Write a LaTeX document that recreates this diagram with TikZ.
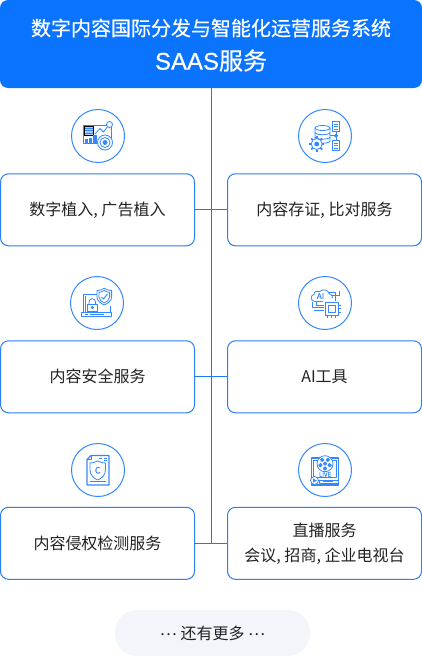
\documentclass[tikz,border=0pt]{standalone}
\usepackage{fontspec}
\setmainfont{Noto Sans CJK SC}
\newfontfamily\titlecjk[FakeBold=0.5]{Noto Sans CJK SC}
\newfontfamily\titlelat[FakeBold=0.5]{Liberation Sans}
\usetikzlibrary{calc}
\definecolor{barblue}{HTML}{0A74FF}
\definecolor{edgeblue}{HTML}{2B7FEF}
\definecolor{linkblue}{HTML}{1A78FF}
\definecolor{iconblue}{HTML}{3388FF}
\definecolor{icontint}{HTML}{A9CCFF}
\definecolor{pillgrey}{HTML}{F3F5FA}
\definecolor{inktext}{HTML}{222222}
\newcommand{\lowertext}[1]{\raisebox{-0.8pt}{#1}}
\tikzset{
  x=1pt,y=-1pt,
  topbar/.style={fill=barblue,rounded corners=8pt,minimum width=422pt,minimum height=88pt,inner sep=0pt},
  bartext/.style={text=white,inner sep=0pt},
  cardbox/.style={draw=edgeblue,line width=1pt,fill=white,rounded corners=8pt,minimum width=194pt,minimum height=72pt,inner sep=0pt,text=inktext,align=center,font=\fontsize{16pt}{25pt}\selectfont},
  pillbox/.style={fill=pillgrey,rounded corners=22pt,minimum width=195pt,minimum height=46pt,inner sep=0pt,text=inktext,font=\fontsize{16pt}{24pt}\selectfont},
  link/.style={draw=linkblue,line width=1.1pt},
  ring/.style={draw=iconblue,line width=1pt,circle,minimum size=53pt,inner sep=0pt},
  ic/.style={draw=iconblue,line width=.8pt,line join=round},
  icf/.style={fill=iconblue},
  ict/.style={fill=icontint},
}
\begin{document}
\begin{tikzpicture}
\useasboundingbox (0,0) rectangle (422,656);
% top bar
\node[topbar] (top) at (211,44) {};
\node[bartext,font=\titlecjk\fontsize{20pt}{24pt}\selectfont] (t1) at (211,28) {数字内容国际分发与智能化运营服务系统};
\node[bartext,font=\fontsize{24pt}{28pt}\selectfont] (t2) at (211,60.5) {{\titlelat SAAS}{\titlecjk 服务}};
% cards
\node[cardbox] (c1) at (97.5,209.8) {\lowertext{数字植入, 广告植入}};
\node[cardbox] (c2) at (324.5,209.8) {\lowertext{内容存证, 比对服务}};
\node[cardbox] (c3) at (97.5,376.8) {\lowertext{内容安全服务}};
\node[cardbox] (c4) at (324.5,376.8) {\lowertext{AI工具}};
\node[cardbox] (c5) at (97.5,543.3) {\lowertext{内容侵权检测服务}};
\node[cardbox] (c6) at (324.5,543.3) {\lowertext{直播服务}\\\lowertext{会议, 招商, 企业电视台}};
\node[pillbox] (more) at (212.5,633) {\raisebox{3.5pt}{⋯} 还有更多 \raisebox{3.5pt}{⋯}};
% connectors
\coordinate (trunktop) at (211.5,88);
\coordinate (trunkend) at (211.5,543.3);
\draw[link] (trunktop) -- (trunkend);
\draw[link] (c1.east) -- (c2.west);
\draw[link] (c3.east) -- (c4.west);
\draw[link] (c5.east) -- (c6.west);
% rings
\node[ring] (r1) at (98,136) {};
\node[ring] (r2) at (325,136) {};
\node[ring] (r3) at (97,303) {};
\node[ring] (r4) at (325,303) {};
\node[ring] (r5) at (98,470) {};
\node[ring] (r6) at (325,470) {};
% icon 1: dashboard
\draw[ic] (83.5,125) rectangle (111,143);
\draw[ict] (84.5,126) rectangle (93,135);
\foreach \yy in {128,130.5,133} \draw[ic,line width=.5pt] (85,\yy) -- (92.5,\yy);
\draw[ic,icf] (85.5,139) rectangle (87.5,142);
\draw[ic,icf] (89,138) rectangle (91,142);
\draw[ic,icf] (93.5,135.5) rectangle (96,142);
\draw[ic] (95,134) -- (100,128.5) -- (103.5,132) -- (108,126);
\draw[ic,fill=white] (109.5,124.5) circle (3);
\draw[ic,fill=white] (105,142.5) circle (7.5);
\draw[ic] (105,142.5) circle (5);
\draw[ic,icf] (105,142.5) circle (2);
% icon 2: database
\draw[ic,fill=white] (315,128) -- (315,141) arc[start angle=180,end angle=360,x radius=7.5,y radius=-2.2] -- (330,128);
\draw[ic,fill=white] (322.5,128) ellipse (7.5 and 2.5);
\draw[ic] (315,132.5) arc[start angle=180,end angle=360,x radius=7.5,y radius=-2.2];
\draw[ic] (315,137) arc[start angle=180,end angle=360,x radius=7.5,y radius=-2.2];
\draw[ic] (330,135.7) -- (336,135.7);
\draw[ic] (336,131.7) -- (336,140);
\draw[ic,icf] (336,135.7) circle (1.5);
\foreach \dy in {121.7,140.3}{
  \draw[ic,fill=white] (332.7,\dy) rectangle +(6.6,10);
  \foreach \ly in {2.5,5,7.5} \draw[ic,line width=.6pt] ($(334,\dy)+(0,\ly)$) -- +(4,0);
}
\foreach \a in {0,45,...,315} \draw[iconblue,line width=1.8pt] (316.7,144)++(\a:5.5) -- ++(\a:2.2);
\draw[ic,fill=white] (316.7,144) circle (5.5);
\draw[ic,icf] (316.7,144) circle (2);
% icon 3: laptop, lock, shield
\draw[ic] (103,294) -- (83.5,294) -- (83.5,313);
\draw[ic] (110,306) -- (110,313);
\draw[ic] (85.5,296) -- (85.5,313);
\draw[ic,fill=white] (81.7,312.7) rectangle (111.7,316.7);
\draw[ic,line width=.6pt] (85,314.7) -- (88,314.7) (90,314.7) -- (104,314.7);
\draw[ic] (89,304.5) -- (89,302) arc[start angle=180,end angle=0,x radius=3.3,y radius=-3.3] -- (95.6,304.5);
\draw[ic,fill=white] (87.3,304.5) rectangle (97.3,311.5);
\draw[ic,icf] (92.3,307.5) circle (1.2);
\draw[ic,fill=white] (104.3,288.3) .. controls (100,290.5) and (98.5,290.5) .. (97,290.5) -- (97,297) .. controls (97,301) and (101,303.5) .. (104.3,305) .. controls (107.6,303.5) and (111.6,301) .. (111.6,297) -- (111.6,290.5) .. controls (110,290.5) and (108.6,290.5) .. (104.3,288.3) -- cycle;
\draw[ic] (104.3,290.5) .. controls (102,291.8) and (100.5,292.3) .. (99,292.3) -- (99,297) .. controls (99,300) and (102,302) .. (104.3,303) .. controls (106.6,302) and (109.6,300) .. (109.6,297) -- (109.6,292.3) .. controls (108,292.3) and (106.6,291.8) .. (104.3,290.5) -- cycle;
\draw[ic,line width=1pt] (101.5,297) -- (103.5,299) -- (107.5,294);
% icon 4: AI cloud and chip
\draw[ic] (314,301) .. controls (310.5,301) and (310,295) .. (314,294.5) .. controls (314,291) and (318,290.5) .. (320,291.5) .. controls (322.5,288.5) and (328,289.5) .. (329,293.5) .. controls (332,294) and (333,296.5) .. (332.5,298);
\draw[ic] (314,301) -- (323,301);
\node[font=\titlecjk\fontsize{8pt}{8pt}\selectfont,text=iconblue,inner sep=0pt] (ai) at (320.5,296) {AI};
\draw[ic] (328,292.5) -- (335,292.5) -- (335,301);
\draw[ic] (331,295.5) -- (339,295.5) -- (339,291);
\draw[ic] (312,302) -- (312,307) -- (324,307);
\draw[ic] (316,302) -- (316,305) -- (324,305);
\draw[ic] (314,310) -- (324,310);
\draw[ic,fill=white] (325,302.5) rectangle (338,315);
\draw[ic,fill=white] (328,305.5) rectangle (335,312);
\foreach \px in {327.5,331.5,335.5} \draw[ic] (\px,315) -- (\px,318);
\foreach \py in {305,308.7,312.5} \draw[ic] (338,\py) -- (341,\py);
% icon 5: protected document
\draw[ic,line width=1.3pt] (91,455.5) -- (109,455.5) -- (109,485) -- (87,485) -- (87,459.5) -- cycle;
\draw[ic] (91,455.5) -- (91,459.5) -- (87,459.5);
\draw[ic,line width=.6pt] (99,458) -- (102,458) (103.5,458) -- (107,458) (103.5,460.5) -- (107,460.5);
\draw[ic,fill=white] (97.7,461) .. controls (95,462.5) and (92,463) .. (90,463) -- (90,470) .. controls (90,475) and (94,478.5) .. (97.7,480) .. controls (101.5,478.5) and (105.5,475) .. (105.5,470) -- (105.5,463) .. controls (103.5,463) and (100.5,462.5) .. (97.7,461) -- cycle;
\node[font=\titlecjk\fontsize{9pt}{9pt}\selectfont,text=iconblue,inner sep=0pt] (cmark) at (97.7,470.3) {C};
\draw[ic,line width=.6pt] (90,481.5) -- (106,481.5);
% icon 6: live stream
\draw[ic,line width=1.1pt] (311.7,458) rectangle (338.3,485);
\draw[ic] (313.7,460) rectangle (336.3,477);
\draw[ic,fill=white] (325,463.7) circle (8);
\foreach \a in {90,162,234,306,18} \draw[ic,icf] (325,463.7)++(\a:4.8) circle (1.7);
\draw[ic,icf] (325,463.7) circle (1.7);
\node[font=\titlecjk\fontsize{6pt}{6pt}\selectfont,text=iconblue,inner sep=0pt,fill=white] (live) at (325,474.5) {LIVE};
\draw[ic,fill=white] (319,480) rectangle (338,483);
\draw[ic] (323,481.5) -- (333,481.5);
\draw[ic,fill=white] (314.5,480.5) circle (4);
\draw[icf,draw=none] (313.2,478.5) -- (316.8,480.5) -- (313.2,482.5) -- cycle;
\end{tikzpicture}
\end{document}
